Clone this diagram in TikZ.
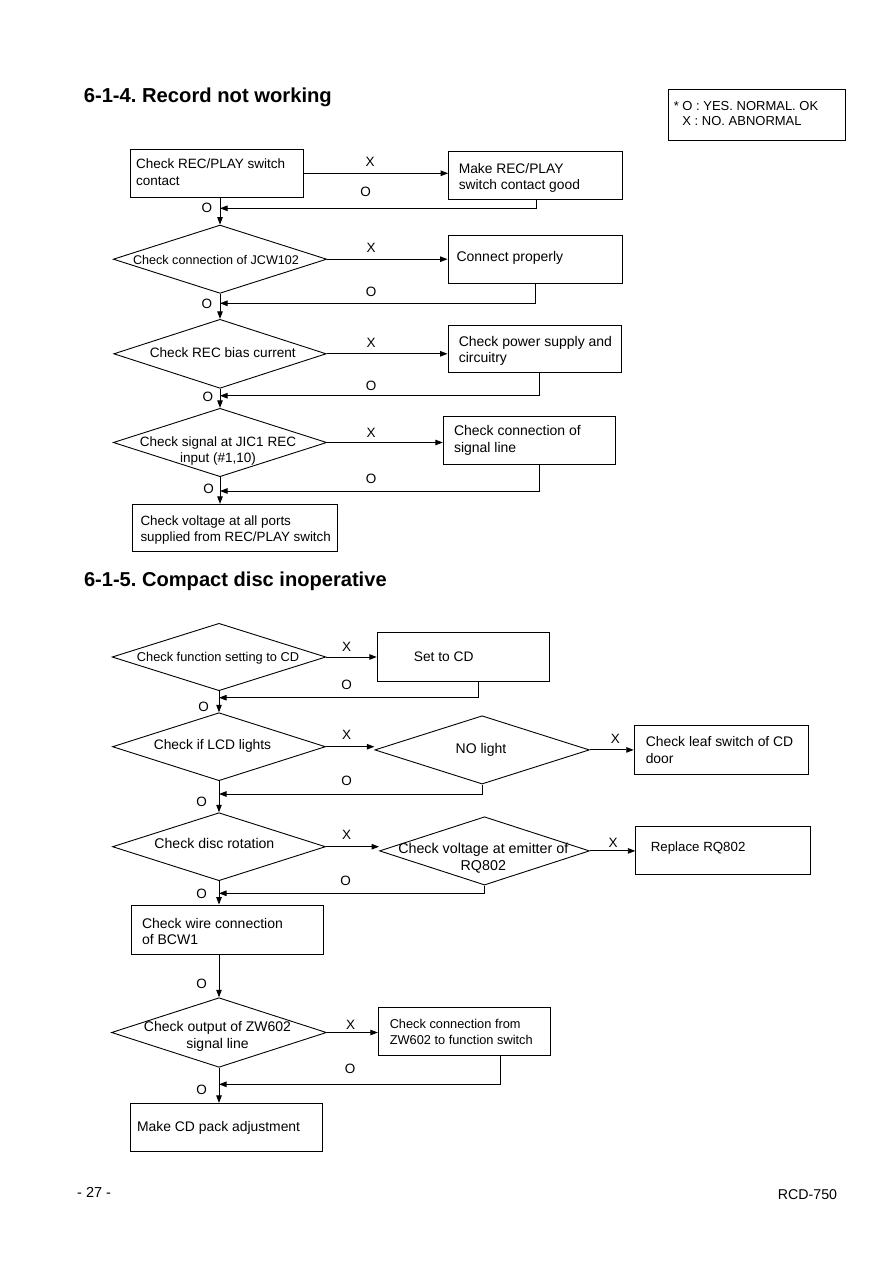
\documentclass[tikz,border=0pt]{standalone}
\usepackage{fontspec}
\setmainfont{Liberation Sans}
\usetikzlibrary{shapes.geometric,arrows.meta}
\frenchspacing
\newcommand{\fsz}[1]{\fontsize{#1}{16.5}\selectfont}
\tikzset{
  bx/.style={draw, line width=0.9pt, rectangle, inner sep=0pt},
  dia/.style={draw, line width=0.9pt, diamond, inner sep=0pt},
  txl/.style={inner sep=0pt, align=left, anchor=west},
  tx/.style={inner sep=0pt, align=center},
  lbl/.style={inner sep=0pt, font=\fsz{13.5}},
  arr/.style={line width=0.9pt, -{Triangle[length=7.5pt,width=5.5pt]}},
  ttl/.style={inner sep=0pt, anchor=base west, font=\bfseries\fsz{20.2}},
}
\begin{document}
\begin{tikzpicture}[x=1pt,y=-1pt]
\fill[white] (0,0) rectangle (893,1263);
\path[use as bounding box] (0,0) rectangle (893,1263);

% ---------- Section 6-1-4 ----------
\node[ttl] (t1) at (83.6,102.7) {6-1-4. Record not working};

\node[bx, minimum width=177pt, minimum height=50.7pt] (leg) at (756.5,114.7) {};
\node[txl, font=\fontsize{13}{15.5}\selectfont] (legt) at ([xshift=6pt,yshift=1pt]leg.west) {* O : YES. NORMAL. OK\\\hphantom{* }X : NO. ABNORMAL};

\node[bx, minimum width=173pt, minimum height=48pt] (b1) at (216.5,173.3) {};
\node[txl, font=\fsz{13.5}] (b1t) at ([xshift=6.4pt,yshift=1pt]b1.west) {Check REC/PLAY switch\\contact};

\node[bx, minimum width=173.4pt, minimum height=48.3pt] (m1) at (535.3,175.2) {};
\node[txl, font=\fsz{13.8}] (m1t) at ([xshift=10.4pt,yshift=-2.5pt]m1.west) {Make REC/PLAY\\switch contact good};

\node[dia, minimum width=213.5pt, minimum height=68.3pt] (d1) at (220,259.2) {};
\node[tx, font=\fsz{12.6}] (d1t) at (216,260) {Check connection of JCW102};

\node[bx, minimum width=174pt, minimum height=47.6pt] (c1) at (535,259.5) {};
\node[txl, font=\fsz{14}] (c1t) at ([xshift=8.8pt,yshift=1.8pt]c1.west) {Connect properly};

\node[dia, minimum width=212.4pt, minimum height=69pt] (d2) at (220,353.8) {};
\node[tx, font=\fsz{13.6}] (d2t) at (222.8,352.7) {Check REC bias current};

\node[bx, minimum width=173.8pt, minimum height=47.7pt] (p1) at (534.9,348.9) {};
\node[txl, font=\fsz{14}] (p1t) at ([xshift=11pt,yshift=-2pt]p1.west) {Check power supply and\\circuitry};

\node[dia, minimum width=213.5pt, minimum height=68.4pt] (d3) at (220,442.5) {};
\node[tx, font=\fsz{13.5}] (d3t) at (218,451) {Check signal at JIC1 REC\\input (\#1,10)};

\node[bx, minimum width=172.5pt, minimum height=47.6pt] (s1) at (529.5,440.5) {};
\node[txl, font=\fsz{14}] (s1t) at ([xshift=11pt]s1.west) {Check connection of\\signal line};

\node[bx, minimum width=204.5pt, minimum height=47.4pt] (f1) at (234.8,528) {};
\node[txl, font=\fsz{13.4}] (f1t) at ([xshift=8.2pt,yshift=-2pt]f1.west) {Check voltage at all ports\\supplied from REC/PLAY switch};

\coordinate (j1) at (220,208.3);
\coordinate (j2) at (220,303.3);
\coordinate (j3) at (220,395.7);
\coordinate (j4) at (220,491);

\draw[arr] (b1.east) -- (b1.east -| m1.west);
\draw[arr] ([xshift=1.1pt]m1.south) |- (j1);
\draw[arr] (b1.south -| d1.north) -- (d1.north);
\draw[arr] (d1.east) -- (d1.east -| c1.west);
\draw[arr] (c1.south) |- (j2);
\draw[arr] (d1.south) -- (d2.north);
\draw[arr] (d2.east) -- (d2.east -| p1.west);
\draw[arr] ([xshift=4.7pt]p1.south) |- (j3);
\draw[arr] (d2.south) -- (d3.north);
\draw[arr] (d3.east) -- (d3.east -| s1.west);
\draw[arr] ([xshift=10.1pt]s1.south) |- (j4);
\draw[arr] (d3.south) -- (d3.south |- f1.north);

\node[lbl] (xl1) at (370,161.7) {X};
\node[lbl] (ol1) at (365.7,192.3) {O};
\node[lbl] (oj1) at (206.8,208.3) {O};
\node[lbl] (xl2) at (371,248.3) {X};
\node[lbl] (ol2) at (371,292.3) {O};
\node[lbl] (oj2) at (206.8,304) {O};
\node[lbl] (xl3) at (371,342.7) {X};
\node[lbl] (ol3) at (371,385.7) {O};
\node[lbl] (oj3) at (207.9,397.3) {O};
\node[lbl] (xl4) at (371,433.3) {X};
\node[lbl] (ol4) at (371,479.3) {O};
\node[lbl] (oj4) at (208.6,489) {O};

% ---------- Section 6-1-5 ----------
\node[ttl, font=\bfseries\fsz{20.1}] (t2) at (83.8,586) {6-1-5. Compact disc inoperative};

\node[dia, minimum width=213.7pt, minimum height=67.4pt] (dA) at (219,657) {};
\node[tx, font=\fsz{12.8}] (dAt) at (218,658.3) {Check function setting to CD};

\node[bx, minimum width=172.1pt, minimum height=48.3pt] (setcd) at (463.3,656.9) {};
\node[txl, font=\fsz{13.8}] (setcdt) at ([xshift=36.8pt]setcd.west) {Set to CD};

\node[dia, minimum width=213pt, minimum height=68pt] (dB) at (219,746.7) {};
\node[tx, font=\fsz{13.8}] (dBt) at (212.5,746) {Check if LCD lights};

\node[dia, minimum width=214.6pt, minimum height=68.3pt] (dC) at (482.1,749.9) {};
\node[tx, font=\fsz{14}] (dCt) at (481,750) {NO light};

\node[bx, minimum width=173.8pt, minimum height=48.3pt] (leaf) at (721.1,749.9) {};
\node[txl, font=\fsz{13.9}] (leaft) at ([xshift=11.8pt]leaf.west) {Check leaf switch of CD\\door};

\node[dia, minimum width=213pt, minimum height=68pt] (dD) at (219,846.7) {};
\node[tx, font=\fsz{14.1}] (dDt) at (214.4,843.3) {Check disc rotation};

\node[dia, minimum width=210pt, minimum height=68.3pt] (dE) at (484.5,850.9) {};
\node[tx, font=\fsz{14.3}] (dEt) at (483.3,858.3) {Check voltage at emitter of\\RQ802};

\node[bx, minimum width=174.3pt, minimum height=48pt] (repl) at (722.9,850) {};
\node[txl, font=\fsz{13.3}] (replt) at ([xshift=15.3pt,yshift=1.7pt]repl.west) {Replace RQ802};

\node[bx, minimum width=192pt, minimum height=49pt] (bcw) at (227,929.5) {};
\node[txl, font=\fsz{14}] (bcwt) at ([xshift=11.3pt,yshift=-2.2pt]bcw.west) {Check wire connection\\of BCW1};

\node[dia, minimum width=215pt, minimum height=69.6pt] (dF) at (219,1032.5) {};
\node[tx, font=\fsz{14}] (dFt) at (217.5,1036.3) {Check output of ZW602\\signal line};

\node[bx, minimum width=172.4pt, minimum height=48pt] (cf) at (464.5,1031.7) {};
\node[txl, font=\fsz{12.8}] (cft) at ([xshift=11.7pt]cf.west) {Check connection from\\ZW602 to function switch};

\node[bx, minimum width=192.3pt, minimum height=47.7pt] (f2) at (226.2,1127.2) {};
\node[txl, font=\fsz{13.9}] (f2t) at ([xshift=7.3pt,yshift=-1pt]f2.west) {Make CD pack adjustment};

\coordinate (j5) at (219,697.7);
\coordinate (j6) at (219,794);
\coordinate (j7) at (219,893.3);
\coordinate (j8) at (219,1084.3);

\draw[arr] (dA.east) -- (dA.east -| setcd.west);
\draw[arr] ([xshift=15.3pt]setcd.south) |- (j5);
\draw[arr] (dA.south) -- (dB.north);
\draw[arr] (dB.east) -- (dB.east -| dC.west);
\draw[arr] (dC.east) -- (dC.east -| leaf.west);
\draw[arr] (dC.south) |- (j6);
\draw[arr] (dB.south) -- (dD.north);
\draw[arr] (dD.east) -- (dD.east -| dE.west);
\draw[arr] (dE.east) -- (dE.east -| repl.west);
\draw[arr] (dE.south) |- (j7);
\draw[arr] (dD.south) -- (dD.south |- bcw.north);
\draw[arr] (bcw.south -| dF.north) -- (dF.north);
\draw[arr] (dF.east) -- (dF.east -| cf.west);
\draw[arr] ([xshift=36.2pt]cf.south) |- (j8);
\draw[arr] (dF.south) -- (dF.south |- f2.north);

\node[lbl] (xa) at (346.5,646.7) {X};
\node[lbl] (oa) at (346.5,685) {O};
\node[lbl] (oja) at (203.6,706.7) {O};
\node[lbl] (xb) at (346.5,735) {X};
\node[lbl] (xc) at (615.4,739.3) {X};
\node[lbl] (ob) at (346.5,780.7) {O};
\node[lbl] (ojb) at (201.7,801.7) {O};
\node[lbl] (xd) at (346.5,835) {X};
\node[lbl] (xe) at (613,842.7) {X};
\node[lbl] (od) at (345.6,880.7) {O};
\node[lbl] (ojd) at (201.7,894) {O};
\node[lbl] (ojbcw) at (201.7,984) {O};
\node[lbl] (xf) at (350.7,1025) {X};
\node[lbl] (of) at (350,1069) {O};
\node[lbl] (ojf) at (201.7,1090) {O};

% ---------- Footer ----------
\node[inner sep=0pt, anchor=base west, font=\fsz{14.5}] (pg) at (77,1197.3) {- 27 -};
\node[inner sep=0pt, anchor=base east, font=\fsz{14.2}] (model) at (837.3,1199.3) {RCD-750};
\end{tikzpicture}
\end{document}
